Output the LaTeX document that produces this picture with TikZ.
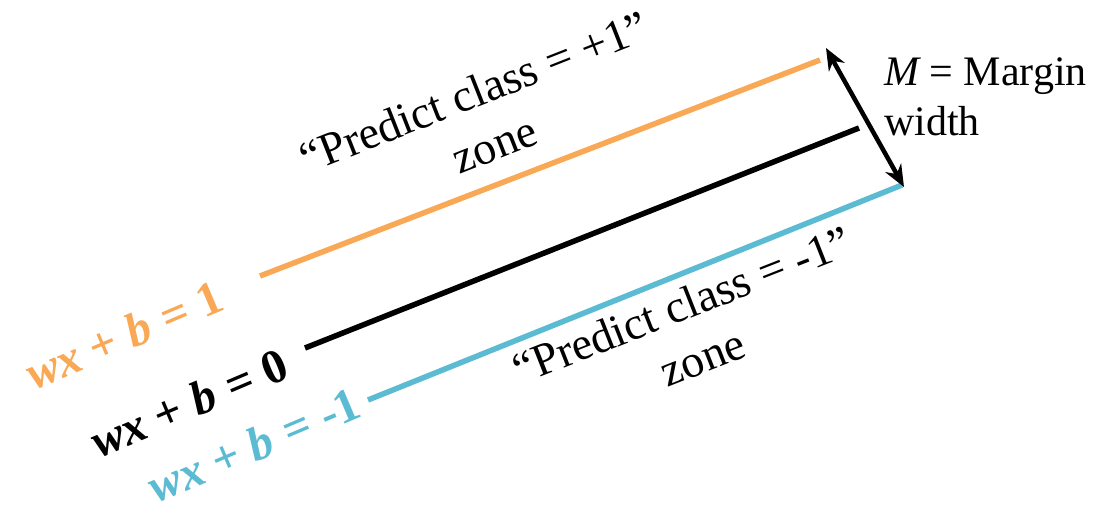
\documentclass[tikz,border=0pt]{standalone}
\usepackage{fontspec}
\setmainfont{Liberation Serif}
\usepackage{tikz}
\usetikzlibrary{arrows.meta}
\definecolor{plusorange}{RGB}{249,168,86}
\definecolor{minusblue}{RGB}{91,187,211}
\newcommand{\wxb}{{\itshape wx} + {\itshape b}\hspace{14pt}}

\begin{document}
\begin{tikzpicture}[x=1pt,y=-1pt,
    zonetext/.style={align=center,font=\fontsize{46}{56}\selectfont,rotate=21.5},
    eqtext/.style={font=\fontsize{48}{56}\selectfont\bfseries,rotate=23},
    hyper/.style={line width=5.5pt}]
    \useasboundingbox (0,0) rectangle (1096,510);

    \coordinate (p1) at (260,276);
    \coordinate (p2) at (820,60);
    \coordinate (z1) at (305,348);
    \coordinate (z2) at (859,128);
    \coordinate (m1) at (368,400);
    \coordinate (m2) at (902,185);
    \coordinate (a1) at (826,48);
    \coordinate (a2) at (904,187);

    \node[eqtext,text=plusorange] (eqp) at (124,335) {\wxb= 1};
    \node[eqtext] (eqz) at (189,403) {\wxb= 0};
    \node[eqtext,text=minusblue] (eqm) at (254,445) {\wxb= -1};

    \node[zonetext] (zp) at (484,118) {“Predict class = +1”\\zone};
    \node[zonetext] (zm) at (692,331) {“Predict class = -1”\\zone};
    \node[anchor=north west,align=left,font=\fontsize{42}{50}\selectfont,inner sep=0pt] (mw) at (884,57) {{\itshape M} = Margin\\width};

    \path
    (p1) edge [plusorange,hyper] (p2)
    (z1) edge [black,hyper] (z2)
    (m1) edge [minusblue,hyper] (m2)
    (a1) edge [{Stealth[length=22pt,width=18pt]}-{Stealth[length=22pt,width=18pt]},black,line width=4.5pt] (a2)
    ;
\end{tikzpicture}
\end{document}
